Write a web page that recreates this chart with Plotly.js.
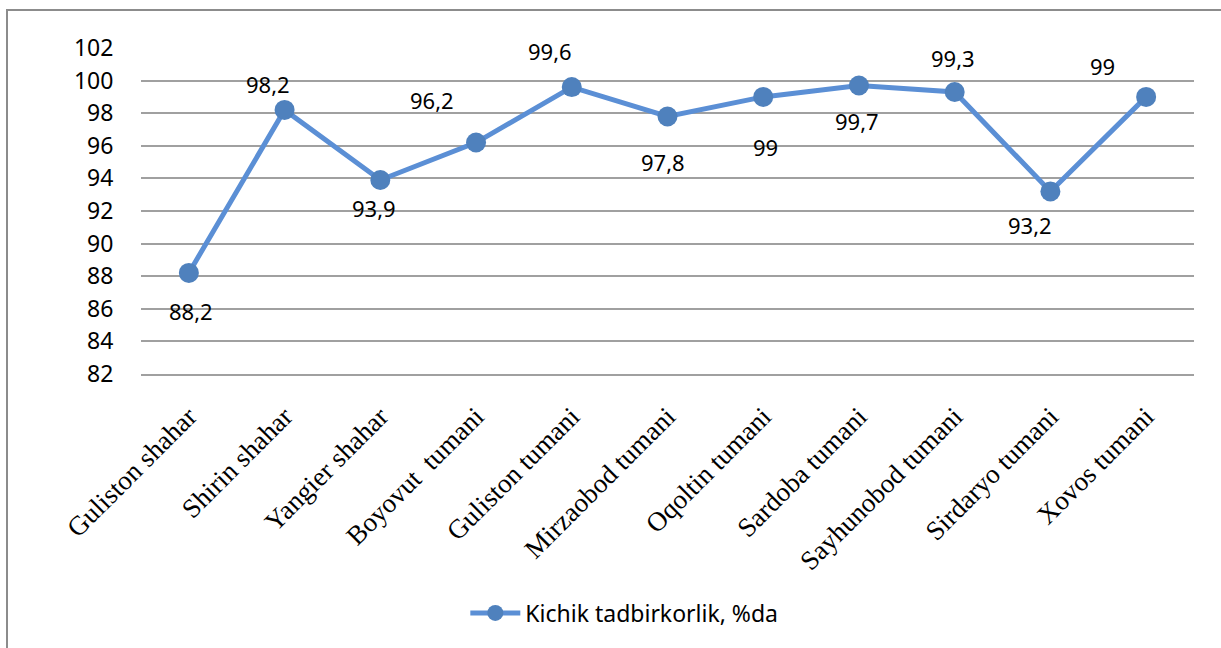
<!DOCTYPE html>
<html>
<head>
<meta charset="utf-8">
<script src="https://cdn.plot.ly/plotly-3.0.1.min.js"></script>
<style>
  html, body { margin: 0; padding: 0; background: #fff; overflow: hidden; }
  #wrap { position: relative; width: 1221px; height: 648px; }
  #chart { position: absolute; left: 0; top: 0; width: 1221px; height: 648px; }
  #frame { position: absolute; left: 6px; top: 9px; width: 1300px; height: 800px;
           border-left: 2px solid #8c8c8c; border-top: 2px solid #8c8c8c; pointer-events: none; }
</style>
</head>
<body>
<div id="wrap">
  <div id="chart"></div>
  <div id="frame"></div>
</div>
<script>
const categories = [
  "Guliston shahar", "Shirin shahar", "Yangier shahar", "Boyovut  tumani",
  "Guliston tumani", "Mirzaobod tumani", "Oqoltin tumani", "Sardoba tumani",
  "Sayhunobod tumani", "Sirdaryo tumani", "Xovos tumani"
];
const values = [88.2, 98.2, 93.9, 96.2, 99.6, 97.8, 99, 99.7, 99.3, 93.2, 99];
const seriesName = "Kichik tadbirkorlik, %da";
const yTickVals = [82, 84, 86, 88, 90, 92, 94, 96, 98, 100, 102];

// label offsets (pixels) relative to each point: [dx, dy(down positive)]
const labelOffsets = [
  [2, 38], [-17, -26], [-6, 28], [-44, -43], [-22, -36], [-5, 46],
  [2, 50], [-2, 36], [-2, -34], [-20, 34], [-44, -31]
];

const trace = {
  x: categories,
  y: values,
  type: "scatter",
  mode: "lines+markers",
  name: seriesName,
  line: { color: "#5B8FD5", width: 5 },
  marker: { color: "#4F81BD", size: 20 },
  hoverinfo: "skip",
  cliponaxis: false
};

const annotations = values.map((v, i) => ({
  x: categories[i],
  y: v,
  xref: "x",
  yref: "y",
  text: String(v).replace(".", ","),
  showarrow: false,
  xshift: labelOffsets[i][0],
  yshift: -labelOffsets[i][1],
  font: { family: "Noto Sans, Open Sans, sans-serif", size: 22, color: "#000" }
}));

const layout = {
  width: 1221,
  height: 648,
  margin: { l: 141, r: 27, t: 48, b: 274, pad: 0 },
  paper_bgcolor: "rgba(0,0,0,0)",
  plot_bgcolor: "rgba(0,0,0,0)",
  showlegend: true,
  legend: {
    orientation: "h",
    x: 0.308,
    xanchor: "left",
    y: -0.733,
    yanchor: "middle",
    font: { family: "Noto Sans, Open Sans, sans-serif", size: 23, color: "#000" },
    itemwidth: 50
  },
  xaxis: {
    type: "category",
    tickvals: categories,
    ticktext: categories,
    tickangle: -45,
    showgrid: false,
    zeroline: false,
    showline: true,
    linecolor: "#a0a0a0",
    linewidth: 2,
    ticks: "outside",
    ticklen: 14,
    tickcolor: "rgba(0,0,0,0)",
    tickfont: { family: "Liberation Serif, Times New Roman, serif", size: 27, color: "#000" },
    range: [-0.5, categories.length - 0.5],
    fixedrange: true
  },
  yaxis: {
    range: [82, 102],
    tickvals: yTickVals,
    ticktext: yTickVals.map(String),
    showgrid: true,
    gridcolor: "#a0a0a0",
    gridwidth: 2,
    zeroline: false,
    showline: false,
    ticks: "outside",
    ticklen: 22,
    tickcolor: "rgba(0,0,0,0)",
    tickfont: { family: "Noto Sans, Open Sans, sans-serif", size: 23, color: "#000" },
    fixedrange: true
  },
  annotations: annotations
};

Plotly.newPlot("chart", [trace], layout, { displayModeBar: false, staticPlot: true });
</script>
</body>
</html>
